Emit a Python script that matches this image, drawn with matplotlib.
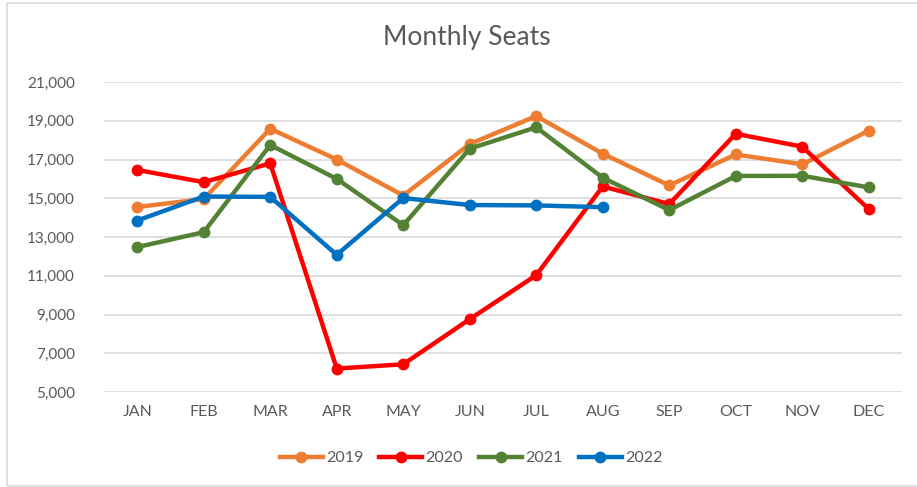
import numpy as np
import matplotlib.pyplot as plt
from matplotlib.patches import Rectangle
from matplotlib.ticker import FuncFormatter

plt.rcParams['font.family'] = ['Lato', 'DejaVu Sans']

months = ['JAN', 'FEB', 'MAR', 'APR', 'MAY', 'JUN', 'JUL', 'AUG', 'SEP', 'OCT', 'NOV', 'DEC']

s2019 = [14550, 14960, 18590, 17000, 15140, 17800, 19240, 17300, 15660, 17260, 16750, 18490]
s2020 = [16460, 15830, 16800, 6210, 6430, 8760, 11030, 15610, 14700, 18330, 17660, 14440]
s2021 = [12480, 13250, 17750, 16000, 13610, 17560, 18660, 16060, 14390, 16150, 16160, 15560]
s2022 = [13850, 15090, 15070, 12080, 15010, 14650, 14630, 14540]

fig = plt.figure(figsize=(9.17, 4.87), dpi=100)
ax = fig.add_axes([104/917, 1-392/487, 798/917, 310/487])

# chart border
fig.patches.append(Rectangle((7/917, 1/487), 1.0, 1-4/487, transform=fig.transFigure,
                             fill=False, edgecolor='#d9d9d9', linewidth=1.2))

x = np.arange(len(months))
ax.plot(x, s2019, color='#ED7D31', lw=3.2, marker='o', ms=7.5, label='2019', zorder=3)
ax.plot(x, s2020, color='#FF0000', lw=3.2, marker='o', ms=7.5, label='2020', zorder=3)
ax.plot(x, s2021, color='#548235', lw=3.2, marker='o', ms=7.5, label='2021', zorder=3)
ax.plot(x[:len(s2022)], s2022, color='#0070C0', lw=3.2, marker='o', ms=7.5, label='2022', zorder=3)

ax.set_xlim(-0.5, 11.5)
ax.set_ylim(5000, 21000)
ax.set_yticks(np.arange(5000, 21001, 2000))
ax.yaxis.set_major_formatter(FuncFormatter(lambda v, p: f'{int(v):,}'))
ax.set_xticks(x)
ax.set_xticklabels(months)
ax.grid(axis='y', color='#d9d9d9', lw=1.2)
ax.set_axisbelow(True)
for sp in ax.spines.values():
    sp.set_visible(False)
ax.tick_params(length=0, colors='#595959', labelsize=11.5)
ax.tick_params(axis='y', pad=21, labelsize=11)
ax.tick_params(axis='x', pad=9)

fig.text(467/917, 1-38/487, 'Monthly Seats', ha='center', va='center', fontsize=19, color='#595959')

ax.legend(loc='center', bbox_to_anchor=(471/917, 1-458/487), bbox_transform=fig.transFigure,
          ncol=4, frameon=False, fontsize=11.5, labelcolor='#595959', handlelength=2.7,
          handletextpad=0.2, columnspacing=1.0)

fig.savefig('out.png', dpi=100)
